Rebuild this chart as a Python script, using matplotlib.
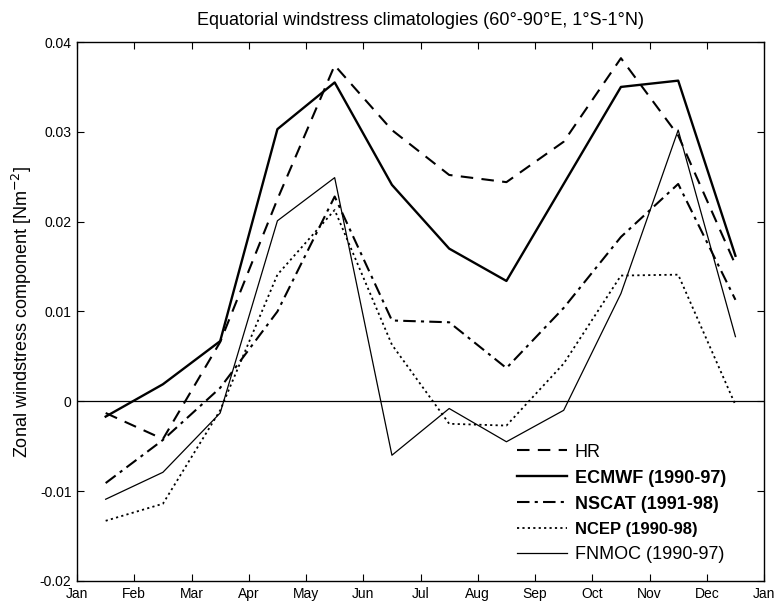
import numpy as np
import matplotlib
matplotlib.use("Agg")
import matplotlib.pyplot as plt

plt.rcParams['font.family'] = ['Liberation Sans', 'DejaVu Sans']

# monthly climatologies, plotted at mid-month
month_mid = np.arange(12) + 0.5
month_labels = ['Jan', 'Feb', 'Mar', 'Apr', 'May', 'Jun', 'Jul', 'Aug',
                'Sep', 'Oct', 'Nov', 'Dec', 'Jan']

hr = [-0.0013, -0.0042, 0.0066, 0.0225, 0.0374, 0.0302,
      0.0252, 0.0244, 0.0289, 0.0382, 0.0296, 0.0152]
ecmwf = [-0.0017, 0.0019, 0.0067, 0.0303, 0.0355, 0.0241,
         0.0170, 0.0134, 0.0242, 0.0350, 0.0357, 0.0162]
nscat = [-0.0091, -0.0043, 0.0015, 0.0100, 0.0228, 0.0090,
         0.0088, 0.0037, 0.0104, 0.0183, 0.0242, 0.0113]
ncep = [-0.0133, -0.0114, -0.0010, 0.0141, 0.0213, 0.0063,
        -0.0025, -0.0027, 0.0042, 0.0140, 0.0141, -0.0004]
fnmoc = [-0.0109, -0.0079, -0.0013, 0.0201, 0.0249, -0.0060,
         -0.0008, -0.0045, -0.0010, 0.0120, 0.0302, 0.0072]

yticks = [-0.02, -0.01, 0, 0.01, 0.02, 0.03, 0.04]
ytick_labels = ['-0.02', '-0.01', '0', '0.01', '0.02', '0.03', '0.04']

fig = plt.figure(figsize=(7.75, 6.01), dpi=100)
ax = fig.add_axes([0.0994, 0.0333, 0.8865, 0.8968])

ax.axhline(0, color='k', lw=0.9)

ax.plot(month_mid, hr, color='k', lw=1.5, dashes=(6, 4), label='HR')
ax.plot(month_mid, ecmwf, color='k', lw=1.7, label='ECMWF (1990-97)')
ax.plot(month_mid, nscat, color='k', lw=1.5, dashes=(6, 2.5, 1.5, 2.5),
        label='NSCAT (1991-98)')
ax.plot(month_mid, ncep, color='k', lw=1.3, dashes=(1.2, 1.8), label='NCEP (1990-98)')
ax.plot(month_mid, fnmoc, color='k', lw=0.9, label='FNMOC (1990-97)')

ax.set_xlim(0, 12)
ax.set_ylim(-0.02, 0.04)
ax.set_xticks(np.arange(13))
ax.set_xticklabels(month_labels, fontsize=10)
ax.set_yticks(yticks)
ax.set_yticklabels(ytick_labels, fontsize=10)
ax.tick_params(direction='in', length=5, width=0.8, top=True, right=True, pad=4)
for s in ax.spines.values():
    s.set_linewidth(1.0)

ax.set_ylabel('Zonal windstress component [Nm$^{-2}$]', fontsize=13, labelpad=4)
ax.set_title('Equatorial windstress climatologies (60°-90°E, 1°S-1°N)',
             fontsize=13, pad=12)

leg = ax.legend(loc='upper left', bbox_to_anchor=(0.64, 0.255), frameon=False,
                fontsize=13, handlelength=2.8, handletextpad=0.4,
                labelspacing=0.5, borderpad=0, borderaxespad=0)
weights = ['normal', 'bold', 'bold', 'bold', 'normal']
for txt, w in zip(leg.get_texts(), weights):
    txt.set_fontweight(w)
leg.get_texts()[3].set_fontsize(12)

fig.savefig('out.png', dpi=100)
